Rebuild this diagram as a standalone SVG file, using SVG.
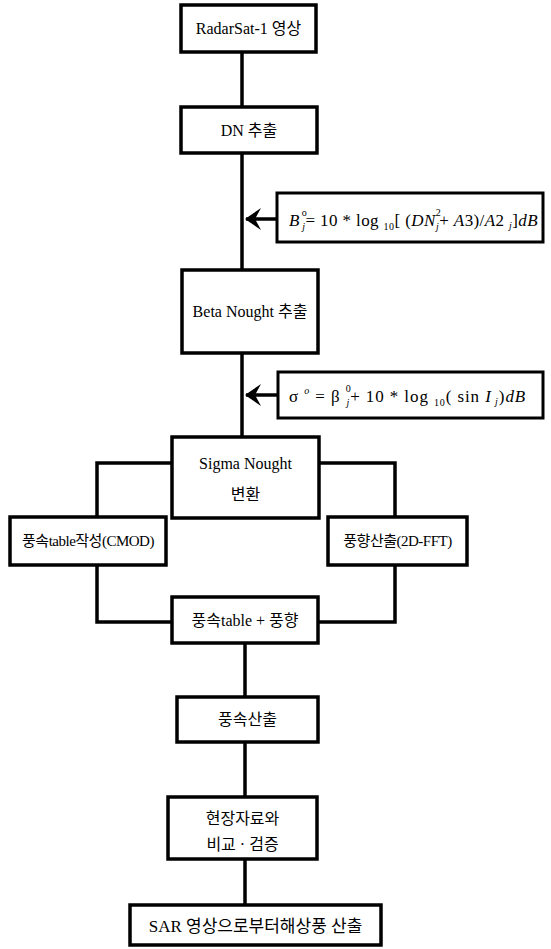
<svg xmlns="http://www.w3.org/2000/svg" width="551" height="949" viewBox="0 0 551 949">
<style>
.box{fill:#fff;stroke:#000;stroke-width:3.5}
.fbox{fill:#fff;stroke:#000;stroke-width:3}
.ln{fill:none;stroke:#000;stroke-width:3.5}
.t{font-family:"Liberation Serif","Noto Sans CJK KR",serif;font-size:16px;fill:#000;text-anchor:middle}
.f{font-family:"Liberation Serif","Noto Sans CJK KR",serif;font-size:17px;fill:#000}
.i{font-style:italic}
.s{font-size:10px}
</style>
<defs>
<marker id="ah" viewBox="0 0 16 22" refX="15" refY="11" markerWidth="16" markerHeight="22" markerUnits="userSpaceOnUse" orient="auto">
<path d="M16,11 L0,0 L6,11 L0,22 Z" fill="#000"/>
</marker>
</defs>
<g id="connectors">
<line class="ln" x1="242" y1="52" x2="242" y2="107"/>
<line class="ln" x1="242" y1="153" x2="242" y2="270"/>
<line class="ln" x1="242" y1="353" x2="242" y2="437"/>
<line class="ln" x1="277" y1="219" x2="246" y2="219" marker-end="url(#ah)"/>
<line class="ln" x1="278" y1="395" x2="246" y2="395" marker-end="url(#ah)"/>
<polyline class="ln" points="172,463 97,463 97,517"/>
<polyline class="ln" points="319,463 395,463 395,517"/>
<polyline class="ln" points="97,565 97,622 172,622"/>
<polyline class="ln" points="395,565 395,622 318,622"/>
<line class="ln" x1="245" y1="643" x2="245" y2="697"/>
<line class="ln" x1="245" y1="742" x2="245" y2="797"/>
<line class="ln" x1="245" y1="859" x2="245" y2="905"/>
</g>
<g id="n1"><rect class="box" x="181" y="5" width="135" height="47"/><text class="t" x="248.5" y="34">RadarSat-1 영상</text></g>
<g id="n2"><rect class="box" x="181" y="107" width="136" height="46"/><text class="t" x="249" y="136">DN 추출</text></g>
<g id="f1"><rect class="fbox" x="277" y="193" width="266" height="49"/>
<text class="f" x="289" y="226" style="letter-spacing:0.4px"><tspan class="i">B</tspan><tspan class="s" dx="2" dy="-10">o</tspan><tspan class="s i" dx="-5" dy="14">j</tspan><tspan dy="-4">= 10 * log </tspan><tspan class="s" dy="4">10</tspan><tspan dy="-4">[ (</tspan><tspan class="i">DN</tspan><tspan class="s" dy="-10">2</tspan><tspan class="s i" dx="-5" dy="14">j</tspan><tspan dy="-4">+ </tspan><tspan class="i">A</tspan><tspan>3)/</tspan><tspan class="i">A</tspan><tspan>2 </tspan><tspan class="s i" dy="3">j</tspan><tspan dy="-3">]</tspan><tspan class="i">dB</tspan></text></g>
<g id="n3"><rect class="box" x="182" y="270" width="136" height="83"/><text class="t" x="250" y="317">Beta Nought 추출</text></g>
<g id="f2"><rect class="fbox" x="278" y="372" width="265" height="46"/>
<text class="f" x="289" y="402" style="letter-spacing:0.9px"><tspan>σ </tspan><tspan class="s i" dy="-8">o</tspan><tspan dy="8"> = β </tspan><tspan class="s" dy="-10">0</tspan><tspan class="s i" dx="-5" dy="14">j</tspan><tspan dy="-4">+ 10 * log </tspan><tspan class="s" dy="4">10</tspan><tspan dy="-4">( sin </tspan><tspan class="i">I</tspan><tspan class="s i" dy="3"> j</tspan><tspan dy="-3">)</tspan><tspan class="i">dB</tspan></text></g>
<g id="n4"><rect class="box" x="172" y="437" width="147" height="81"/><text class="t" x="245.5" y="469">Sigma Nought</text><text class="t" x="245.5" y="500">변환</text></g>
<g id="n5"><rect class="box" x="10" y="517" width="156" height="48"/><text class="t" x="88" y="546" style="font-size:15px;letter-spacing:-0.5px">풍속table작성(CMOD)</text></g>
<g id="n6"><rect class="box" x="328" y="517" width="139" height="48"/><text class="t" x="397.5" y="546" style="font-size:15px;letter-spacing:-0.5px">풍향산출(2D-FFT)</text></g>
<g id="n7"><rect class="box" x="172" y="597" width="146" height="46"/><text class="t" x="245" y="626">풍속table + 풍향</text></g>
<g id="n8"><rect class="box" x="177" y="697" width="141" height="45"/><text class="t" x="247.5" y="725">풍속산출</text></g>
<g id="n9"><rect class="box" x="168" y="797" width="149" height="62"/><text class="t" x="242.5" y="824">현장자료와</text><text class="t" x="242.5" y="850">비교 · 검증</text></g>
<g id="n10"><rect class="box" x="130" y="905" width="251" height="40"/><text class="t" x="255.5" y="932" style="font-size:17px">SAR 영상으로부터해상풍 산출</text></g>
</svg>
